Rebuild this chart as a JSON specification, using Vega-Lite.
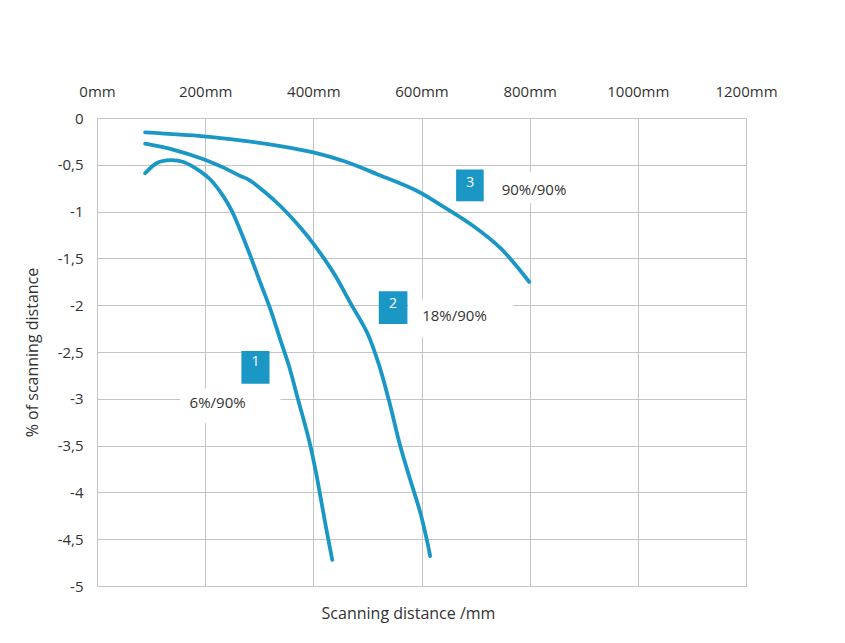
{
  "$schema": "https://vega.github.io/schema/vega-lite/v6.json",
  "width": 649,
  "height": 468,
  "autosize": {"type": "none"},
  "padding": {"left": 97, "top": 118, "right": 99, "bottom": 57},
  "background": "white",
  "config": {
    "font": "Open Sans",
    "view": {"stroke": "#c4c4c4", "strokeWidth": 1},
    "axis": {"labelFont": "Open Sans", "titleFont": "Open Sans", "labelColor": "#333333", "titleColor": "#333333", "titleFontWeight": "normal", "gridColor": "#c4c4c4", "gridOpacity": 1, "gridWidth": 1}
  },
  "datasets": {
    "curves": [
      {"series": "1", "i": 0, "mm": 89, "v": -0.59},
      {"series": "1", "i": 1, "mm": 111, "v": -0.48},
      {"series": "1", "i": 2, "mm": 136, "v": -0.45},
      {"series": "1", "i": 3, "mm": 160, "v": -0.47},
      {"series": "1", "i": 4, "mm": 191, "v": -0.57},
      {"series": "1", "i": 5, "mm": 210, "v": -0.66},
      {"series": "1", "i": 6, "mm": 234, "v": -0.84},
      {"series": "1", "i": 7, "mm": 250, "v": -1.0},
      {"series": "1", "i": 8, "mm": 262, "v": -1.16},
      {"series": "1", "i": 9, "mm": 284, "v": -1.48},
      {"series": "1", "i": 10, "mm": 302, "v": -1.76},
      {"series": "1", "i": 11, "mm": 321, "v": -2.05},
      {"series": "1", "i": 12, "mm": 339, "v": -2.37},
      {"series": "1", "i": 13, "mm": 355, "v": -2.65},
      {"series": "1", "i": 14, "mm": 370, "v": -2.97},
      {"series": "1", "i": 15, "mm": 392, "v": -3.44},
      {"series": "1", "i": 16, "mm": 404, "v": -3.76},
      {"series": "1", "i": 17, "mm": 413, "v": -4.04},
      {"series": "1", "i": 18, "mm": 423, "v": -4.36},
      {"series": "1", "i": 19, "mm": 435, "v": -4.72},
      {"series": "2", "i": 0, "mm": 89, "v": -0.275},
      {"series": "2", "i": 1, "mm": 142, "v": -0.34},
      {"series": "2", "i": 2, "mm": 197, "v": -0.44},
      {"series": "2", "i": 3, "mm": 234, "v": -0.53},
      {"series": "2", "i": 4, "mm": 265, "v": -0.62},
      {"series": "2", "i": 5, "mm": 281, "v": -0.66},
      {"series": "2", "i": 6, "mm": 308, "v": -0.78},
      {"series": "2", "i": 7, "mm": 339, "v": -0.94},
      {"series": "2", "i": 8, "mm": 376, "v": -1.17},
      {"series": "2", "i": 9, "mm": 401, "v": -1.35},
      {"series": "2", "i": 10, "mm": 438, "v": -1.66},
      {"series": "2", "i": 11, "mm": 469, "v": -1.98},
      {"series": "2", "i": 12, "mm": 500, "v": -2.3},
      {"series": "2", "i": 13, "mm": 521, "v": -2.63},
      {"series": "2", "i": 14, "mm": 539, "v": -3.0},
      {"series": "2", "i": 15, "mm": 561, "v": -3.51},
      {"series": "2", "i": 16, "mm": 580, "v": -3.88},
      {"series": "2", "i": 17, "mm": 598, "v": -4.22},
      {"series": "2", "i": 18, "mm": 610, "v": -4.51},
      {"series": "2", "i": 19, "mm": 616, "v": -4.68},
      {"series": "3", "i": 0, "mm": 89, "v": -0.154},
      {"series": "3", "i": 1, "mm": 197, "v": -0.196},
      {"series": "3", "i": 2, "mm": 265, "v": -0.239},
      {"series": "3", "i": 3, "mm": 339, "v": -0.3},
      {"series": "3", "i": 4, "mm": 400, "v": -0.367},
      {"series": "3", "i": 5, "mm": 456, "v": -0.46},
      {"series": "3", "i": 6, "mm": 518, "v": -0.6},
      {"series": "3", "i": 7, "mm": 592, "v": -0.78},
      {"series": "3", "i": 8, "mm": 641, "v": -0.95},
      {"series": "3", "i": 9, "mm": 697, "v": -1.16},
      {"series": "3", "i": 10, "mm": 746, "v": -1.39},
      {"series": "3", "i": 11, "mm": 771, "v": -1.55},
      {"series": "3", "i": 12, "mm": 799, "v": -1.75}
    ],
    "labels": [
      {"num": "1", "text": "6%/90%", "bx": 267, "bx2": 319, "by": -2.49, "by2": -2.84, "nx": 293, "ny": -2.61, "wx": 154, "wx2": 339, "wy": -2.89, "wy2": -3.26, "tx": 223, "ty": -3.05},
      {"num": "2", "text": "18%/90%", "bx": 521, "bx2": 574, "by": -1.85, "by2": -2.2, "nx": 547.5, "ny": -1.99, "wx": 575, "wx2": 769, "wy": -1.94, "wy2": -2.34, "tx": 661, "ty": -2.12},
      {"num": "3", "text": "90%/90%", "bx": 664, "bx2": 715, "by": -0.55, "by2": -0.89, "nx": 690, "ny": -0.69, "wx": 728, "wx2": 891, "wy": -0.58, "wy2": -0.91, "tx": 808, "ty": -0.766}
    ]
  },
  "layer": [
    {
      "data": {"name": "labels"},
      "mark": {"type": "rect", "color": "white"},
      "encoding": {
        "x": {"field": "wx", "type": "quantitative", "scale": {"domain": [0, 1200]},
          "axis": {"orient": "top", "values": [0, 200, 400, 600, 800, 1000, 1200], "labelExpr": "datum.value + 'mm'", "labelFontSize": 15, "labelBaseline": "middle", "labelPadding": 27, "labelFlush": false, "labelOverlap": false, "ticks": false, "tickSize": 0, "domain": false, "grid": true,
            "title": "Scanning distance /mm", "titleFontSize": 16, "titleX": 311, "titleY": 495, "titleBaseline": "middle", "titleAlign": "center", "titleAngle": 0}},
        "x2": {"field": "wx2"},
        "y": {"field": "wy", "type": "quantitative", "scale": {"domain": [-5, 0]},
          "axis": {"values": [0, -0.5, -1, -1.5, -2, -2.5, -3, -3.5, -4, -4.5, -5], "labelExpr": "replace(toString(datum.value), '.', ',')", "labelFontSize": 15, "labelPadding": 14, "labelFlush": false, "labelOverlap": false, "ticks": false, "tickSize": 0, "domain": false, "grid": true,
            "title": "% of scanning distance", "titleFontSize": 16, "titleX": -65, "titleY": 234, "titleBaseline": "middle", "titleAlign": "center", "titleAngle": -90}},
        "y2": {"field": "wy2"}
      }
    },
    {
      "data": {"name": "curves"},
      "mark": {"type": "line", "color": "#1b97c6", "strokeWidth": 3.8, "strokeCap": "round", "strokeJoin": "round", "interpolate": "catmull-rom"},
      "encoding": {
        "x": {"field": "mm", "type": "quantitative"},
        "y": {"field": "v", "type": "quantitative"},
        "detail": {"field": "series"},
        "order": {"field": "i", "type": "quantitative"}
      }
    },
    {
      "data": {"name": "labels"},
      "mark": {"type": "rect", "color": "#1b97c6"},
      "encoding": {
        "x": {"field": "bx", "type": "quantitative"},
        "x2": {"field": "bx2"},
        "y": {"field": "by", "type": "quantitative"},
        "y2": {"field": "by2"}
      }
    },
    {
      "data": {"name": "labels"},
      "mark": {"type": "text", "color": "white", "fontSize": 14, "font": "Open Sans", "align": "center", "baseline": "middle"},
      "encoding": {
        "x": {"field": "nx", "type": "quantitative"},
        "y": {"field": "ny", "type": "quantitative"},
        "text": {"field": "num"}
      }
    },
    {
      "data": {"name": "labels"},
      "mark": {"type": "text", "color": "#333333", "fontSize": 15, "font": "Open Sans", "align": "center", "baseline": "middle"},
      "encoding": {
        "x": {"field": "tx", "type": "quantitative"},
        "y": {"field": "ty", "type": "quantitative"},
        "text": {"field": "text"}
      }
    }
  ]
}
